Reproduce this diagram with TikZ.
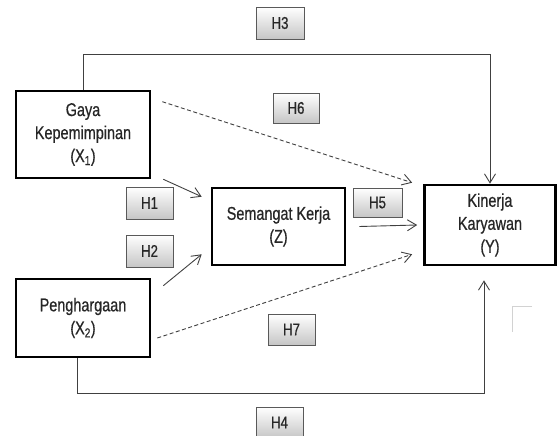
\documentclass[tikz,border=0pt]{standalone}
\usepackage{fontspec}
\setmainfont{Liberation Sans}[FakeStretch=0.78,FakeBold=0.6]
\usetikzlibrary{arrows.meta,calc,shadows}
\definecolor{txt}{HTML}{262626}
\definecolor{ln}{HTML}{404040}
\tikzset{
  varbox/.style={draw=black, line width=2.6pt, fill=white, align=center, text=txt,
    font=\fontsize{18.5}{23}\selectfont, inner sep=0pt},
  hbox/.style={draw=gray!70!black, line width=0.8pt, top color=white, bottom color=gray!45,
    text=txt, font=\fontsize{17}{19}\selectfont, inner sep=0pt,
    drop shadow={shadow xshift=1.3pt, shadow yshift=-1.3pt, fill=gray!65, opacity=0.85}},
  conn/.style={draw=ln, line width=0.9pt, -{Straight Barb[length=9pt,width=11pt,line width=0.9pt]}},
}
\begin{document}
\begin{tikzpicture}[x=1pt,y=-1pt]
\useasboundingbox (0,0) rectangle (558,436);
% variable boxes
\node[varbox, minimum width=134pt, minimum height=87pt] (X1) at (83,134.5) {Gaya\\Kepemimpinan\\(X\textsubscript{1})};
\node[varbox, minimum width=134pt, minimum height=78pt] (X2) at (83,318) {Penghargaan\\(X\textsubscript{2})};
\node[varbox, minimum width=133pt, minimum height=77pt] (Z) at (278.5,226.5) {Semangat Kerja\\(Z)};
\node[varbox, minimum width=131pt, minimum height=80pt] (Y) at (490,225) {Kinerja\\Karyawan\\(Y)};
% hypothesis labels
\node[hbox, minimum width=48pt, minimum height=32pt] (H3) at (280,23) {H3};
\node[hbox, minimum width=46pt, minimum height=30pt] (H6) at (296,108) {H6};
\node[hbox, minimum width=47pt, minimum height=32pt] (H1) at (149.5,203) {H1};
\node[hbox, minimum width=47pt, minimum height=32pt] (H2) at (149.5,251) {H2};
\node[hbox, minimum width=49pt, minimum height=29pt] (H5) at (377.5,202.5) {H5};
\node[hbox, minimum width=47pt, minimum height=31pt] (H7) at (291.5,329.5) {H7};
\node[hbox, minimum width=47pt, minimum height=31pt] (H4) at (279.5,422.5) {H4};
% helper coordinates
\coordinate (topline) at (0,54);
\coordinate (botline) at (0,393);
\coordinate (x2s) at ($(X2.south)+(-6,0)$);
\coordinate (ys) at ($(Y.south)+(-6,14)$);
% connectors
\draw[conn] (X1.north) -- (X1.north |- topline) -| (Y.north);
\draw[conn] (x2s) -- (x2s |- botline) -| (ys);
\draw[conn, dashed, dash pattern=on 4pt off 2.5pt] ($(X1.north east)+(11,12)$) -- ($(Y.north west)+(-11,-1)$);
\draw[conn, dashed, dash pattern=on 4pt off 2.5pt] ($(X2.east)+(6,20)$) -- ($(Y.south west)+(-11,-12)$);
\draw[conn] ($(X1.south east)+(12,0)$) -- ($(Z.north west)+(-9,10)$);
\draw[conn] ($(X2.north east)+(12,8)$) -- ($(Z.south west)+(-9,-12)$);
\draw[conn] ($(Z.east)+(13,0)$) -- ($(Y.west)+(-6,0)$);
% stray corner mark
\draw[gray!35, line width=0.8pt] (532,306) -- (512,306) -- (512,332);
\end{tikzpicture}
\end{document}
